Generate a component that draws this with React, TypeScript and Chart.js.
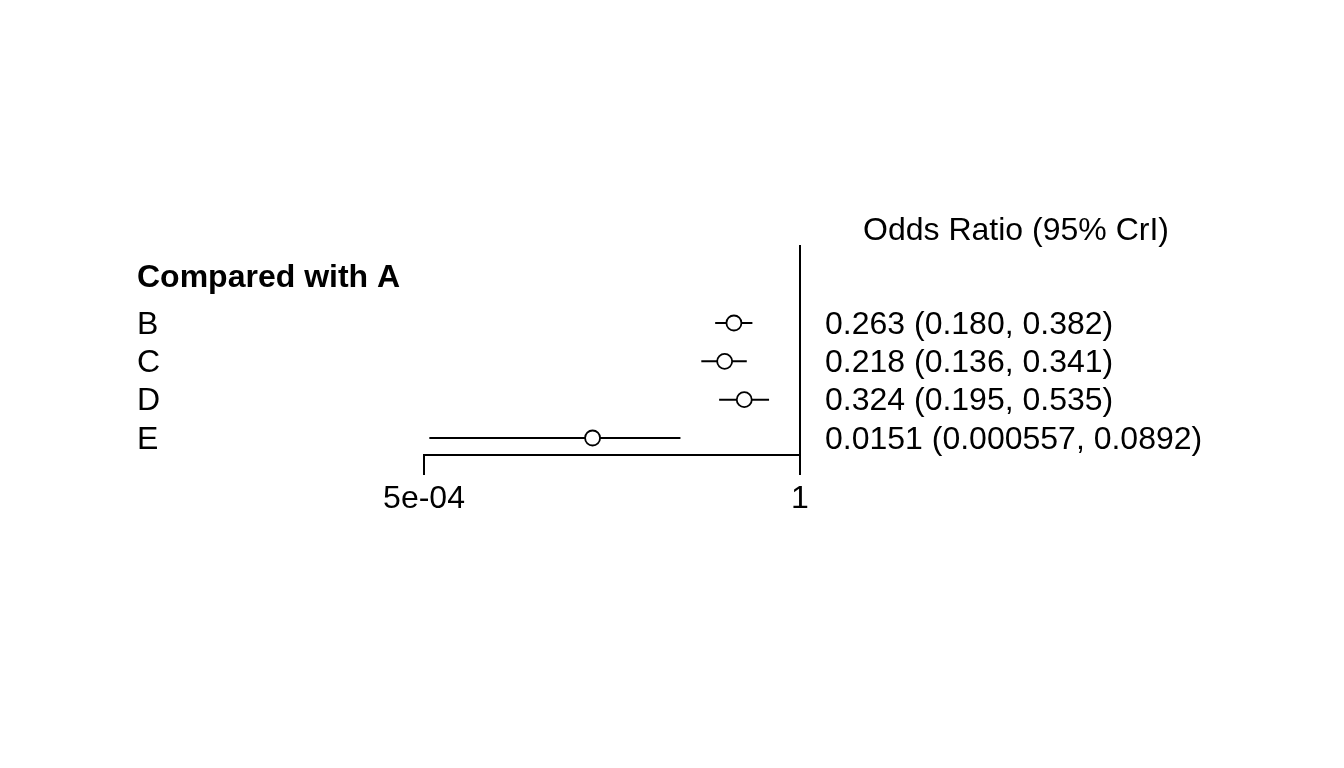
import React, { useEffect, useRef } from "react";
import { Chart, registerables } from "chart.js";

Chart.register(...registerables);

const rowLabels = ["B", "C", "D", "E"];
const rowValues = [1, 2, 3, 4];
const estimates = [0.263, 0.218, 0.324, 0.0151];
const lowerCI = [0.18, 0.136, 0.195, 0.000557];
const upperCI = [0.382, 0.341, 0.535, 0.0892];
const estimateLabels = [
  "0.263 (0.180, 0.382)",
  "0.218 (0.136, 0.341)",
  "0.324 (0.195, 0.535)",
  "0.0151 (0.000557, 0.0892)",
];
const xTicks = [5e-4, 1];
const xTickLabels = ["5e-04", "1"];
const headerText = "Compared with A";
const headerRow = -0.22;
const columnTitle = "Odds Ratio (95% CrI)";
const referenceValue = 1;
const yMin = -1.035;
const yMax = 4.444;

const FONT = "'Liberation Sans', Arial, sans-serif";
const FS = 32;

const textPlugin = {
  id: "forestText",
  afterDraw(chart: any) {
    const ctx = chart.ctx;
    const ys = chart.scales.y;
    const dy = 2;
    ctx.save();
    ctx.fillStyle = "#000";
    ctx.textBaseline = "middle";
    ctx.textAlign = "left";
    ctx.font = `bold ${FS}px ${FONT}`;
    ctx.fillText(headerText, 137, ys.getPixelForValue(headerRow) + dy);
    ctx.font = `${FS}px ${FONT}`;
    rowLabels.forEach((l, i) => {
      const y = ys.getPixelForValue(rowValues[i]) + dy;
      ctx.fillText(l, 137, y);
      ctx.fillText(estimateLabels[i], 825, y);
    });
    ctx.textAlign = "center";
    ctx.fillText(columnTitle, 1016, chart.chartArea.top - 16 + dy);
    ctx.restore();
  },
};

export default function App() {
  const ref = useRef<HTMLCanvasElement>(null);
  useEffect(() => {
    document.body.style.margin = "0";
    const ciSets = rowLabels.map((_, i) => ({
      type: "line" as const,
      data: [
        { x: lowerCI[i], y: rowValues[i] },
        { x: upperCI[i], y: rowValues[i] },
      ],
      borderColor: "#000",
      borderWidth: 2,
      pointRadius: 0,
      showLine: true,
      clip: false as any,
      order: 2,
    }));
    const chart = new Chart(ref.current!, {
      type: "scatter",
      data: {
        datasets: [
          ...ciSets,
          {
            type: "line" as const,
            data: [
              { x: referenceValue, y: yMin },
              { x: referenceValue, y: yMax },
            ],
            borderColor: "#000",
            borderWidth: 2,
            pointRadius: 0,
            showLine: true,
            clip: false as any,
            order: 3,
          },
          {
            type: "scatter" as const,
            data: estimates.map((e, i) => ({ x: e, y: rowValues[i] })),
            pointRadius: 7.5,
            pointBackgroundColor: "#fff",
            pointBorderColor: "#000",
            pointBorderWidth: 1.8,
            clip: false as any,
            order: 1,
          } as any,
        ],
      },
      options: {
        animation: false,
        responsive: false,
        maintainAspectRatio: false,
        events: [],
        layout: { padding: { left: 424, right: 544, top: 245, bottom: 253 } },
        plugins: { legend: { display: false }, tooltip: { enabled: false } },
        scales: {
          x: {
            type: "logarithmic",
            min: xTicks[0],
            max: xTicks[1],
            position: "bottom",
            afterBuildTicks: (scale: any) => {
              scale.ticks = xTicks.map((v) => ({ value: v }));
            },
            afterFit: (scale: any) => {
              scale.height = 60;
            },
            ticks: {
              autoSkip: false,
              maxRotation: 0,
              padding: 5,
              color: "#000",
              font: { family: FONT, size: FS },
              callback: (v: any) => {
                const i = xTicks.findIndex((t) => Math.abs(t - v) < 1e-12);
                return i >= 0 ? xTickLabels[i] : "";
              },
            },
            grid: {
              display: true,
              drawOnChartArea: false,
              drawTicks: true,
              tickLength: 20,
              color: "#000",
              lineWidth: 2,
            },
            border: { display: true, color: "#000", width: 2 },
          },
          y: {
            type: "linear",
            reverse: true,
            min: yMin,
            max: yMax,
            display: false,
          },
        },
      } as any,
      plugins: [textPlugin],
    });
    return () => chart.destroy();
  }, []);
  return (
    <canvas
      ref={ref}
      width={1344}
      height={768}
      style={{ display: "block", width: 1344, height: 768 }}
    />
  );
}
